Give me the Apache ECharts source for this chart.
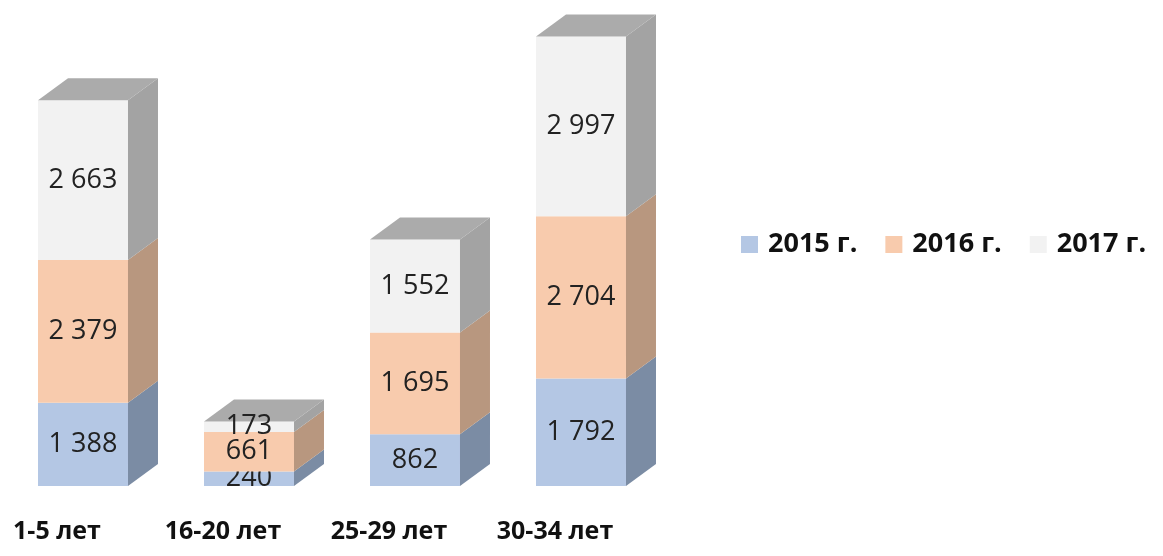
<!DOCTYPE html>
<html>
<head>
<meta charset="utf-8">
<script src="https://cdn.jsdelivr.net/npm/echarts@6/dist/echarts.min.js"></script>
<style>
html,body{margin:0;padding:0;background:#fff;}
#chart{width:1163px;height:556px;}
</style>
</head>
<body>
<div id="chart"></div>
<script>
const categories = ['1-5 лет', '16-20 лет', '25-29 лет', '30-34 лет'];
const seriesNames = ['2015 г.', '2016 г.', '2017 г.'];
const values2015 = [1388, 240, 862, 1792];
const values2016 = [2379, 661, 1695, 2704];
const values2017 = [2663, 173, 1552, 2997];

const frontColors = ['#b4c7e4', '#f8cbad', '#f2f2f2'];
const sideColors = ['#7b8ca4', '#b8977f', '#a3a3a3'];
const topColor = '#ababab';
const DX = 30, DY = 22;

const allValues = [values2015, values2016, values2017];
const base = categories.map(() => 0);
const seriesData = allValues.map(vals => vals.map((v, i) => {
  const b = base[i];
  base[i] += v;
  return [i, b, b + v, v];
}));

function fmt(v) {
  return String(v).replace(/\B(?=(\d{3})+(?!\d))/g, ' ');
}

function makeRender(sIdx) {
  return function (params, api) {
    const cat = api.value(0);
    const x = api.coord([cat, 0])[0];
    const y0 = api.coord([cat, api.value(1)])[1];
    const y1 = api.coord([cat, api.value(2)])[1];
    const band = api.size([1, 0])[0];
    const w = band * 0.542;
    const left = x - w / 2, right = x + w / 2;
    const children = [
      { type: 'rect', shape: { x: left, y: y1, width: w, height: y0 - y1 },
        style: { fill: frontColors[sIdx] } },
      { type: 'polygon', shape: { points: [[right, y0], [right, y1], [right + DX, y1 - DY], [right + DX, y0 - DY]] },
        style: { fill: sideColors[sIdx] } }
    ];
    if (sIdx === allValues.length - 1) {
      children.push({ type: 'polygon', shape: { points: [[left, y1], [right, y1], [right + DX, y1 - DY], [left + DX, y1 - DY]] },
        style: { fill: topColor } });
    }
    children.push({ type: 'text', style: { x: x, y: (y0 + y1) / 2, text: fmt(api.value(3)),
      fill: '#222', font: '27px "Open Sans", sans-serif', align: 'center', verticalAlign: 'middle' } });
    return { type: 'group', children: children };
  };
}

const chart = echarts.init(document.getElementById('chart'));
chart.setOption({
  animation: false,
  backgroundColor: '#fff',
  grid: { left: 0, width: 664, top: 36, bottom: 70 },
  legend: {
    left: 741, top: 231, width: 422, padding: 0,
    itemWidth: 17, itemHeight: 17, itemGap: 28, icon: 'rect',
    data: seriesNames,
    textStyle: { fontFamily: 'Open Sans', fontWeight: 'bold', fontSize: 27, color: '#111', padding: [0, 0, 0, 5] }
  },
  xAxis: {
    type: 'category', data: categories,
    axisLine: { show: false }, axisTick: { show: false }, splitLine: { show: false },
    axisLabel: { margin: 33, padding: [0, 52, 0, 0], fontFamily: 'Open Sans', fontWeight: 'bold', fontSize: 25, color: '#111' }
  },
  yAxis: { type: 'value', min: 0, max: 7500, show: false },
  series: seriesNames.map((name, s) => ({
    type: 'custom', name: name,
    itemStyle: { color: frontColors[s] },
    encode: { x: 0, y: 2 },
    renderItem: makeRender(s),
    data: seriesData[s]
  }))
});
</script>
</body>
</html>
